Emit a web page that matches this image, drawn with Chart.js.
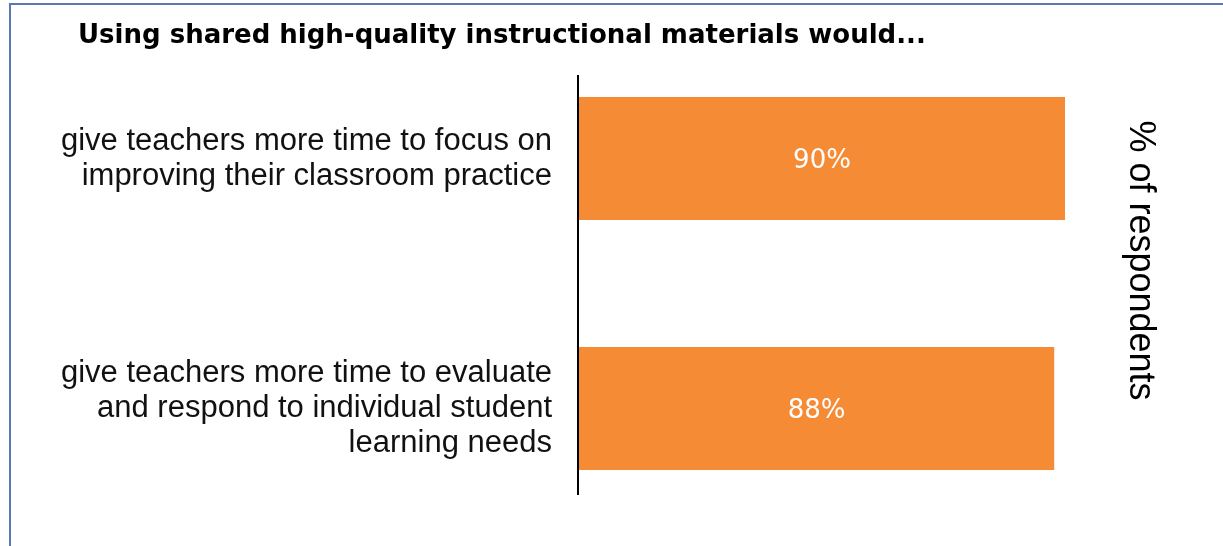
<!DOCTYPE html>
<html>
<head>
<meta charset="utf-8">
<script src="https://cdn.jsdelivr.net/npm/chart.js@4"></script>
<style>
  html, body { margin: 0; padding: 0; background: #fff; overflow: hidden; }
  #frame { position: absolute; left: 9px; top: 3px; width: 1300px; height: 600px;
           border-left: 2px solid #5a78b4; border-top: 2px solid #5a78b4; }
  #chart { position: absolute; left: 0; top: 0; }
</style>
</head>
<body>
<div id="frame"></div>
<canvas id="chart" width="1223" height="546"></canvas>
<script>
// data
const chartTitle = 'Using shared high-quality instructional materials would...';
const axisTitle = '% of respondents';
const categories = [
  ['give teachers more time to focus on', 'improving their classroom practice'],
  ['give teachers more time to evaluate', 'and respond to individual student', 'learning needs']
];
const percentValues = [90, 88];
const axisRange = [0, 100];

const barColor = '#f68b35';

// title, value labels, axis line and right-hand axis title
const decorations = {
  id: 'decorations',
  afterDatasetsDraw(chart) {
    const ctx = chart.ctx;
    const area = chart.chartArea;
    const yScale = chart.scales.y;
    ctx.save();

    // title
    ctx.fillStyle = '#000';
    ctx.font = 'bold 26px "DejaVu Sans"';
    ctx.textAlign = 'left';
    ctx.textBaseline = 'alphabetic';
    ctx.fillText(chartTitle, 78, 43);

    // value labels in the middle of each bar
    const meta = chart.getDatasetMeta(0);
    ctx.fillStyle = '#fff';
    ctx.font = '26px "DejaVu Sans"';
    ctx.textAlign = 'center';
    ctx.textBaseline = 'middle';
    meta.data.forEach((bar, i) => {
      ctx.fillText(percentValues[i] + '%', (bar.x + bar.base) / 2, bar.y + 3);
    });

    // vertical axis line, shorter than the plot area
    const catW = area.height / categories.length;
    const top = yScale.getPixelForTick(0) - catW * 0.334;
    const bottom = yScale.getPixelForTick(categories.length - 1) + catW * 0.346;
    ctx.strokeStyle = '#000';
    ctx.lineWidth = 2;
    ctx.beginPath();
    ctx.moveTo(area.left - 1, top);
    ctx.lineTo(area.left - 1, bottom);
    ctx.stroke();

    // rotated title on the right
    ctx.fillStyle = '#000';
    ctx.font = '36px "Liberation Sans"';
    ctx.translate(area.right + 21, (area.top + area.bottom) / 2 - 23);
    ctx.rotate(Math.PI / 2);
    ctx.textAlign = 'center';
    ctx.textBaseline = 'middle';
    ctx.fillText(axisTitle, 0, 0);
    ctx.restore();
  }
};

new Chart(document.getElementById('chart'), {
  type: 'bar',
  data: {
    labels: categories,
    datasets: [{
      data: percentValues,
      backgroundColor: barColor,
      borderWidth: 0,
      barPercentage: 0.492,
      categoryPercentage: 1.0
    }]
  },
  options: {
    indexAxis: 'y',
    responsive: false,
    animation: false,
    devicePixelRatio: 1,
    layout: { padding: { left: 0, top: 33.5, right: 104, bottom: 12.5 } },
    plugins: {
      legend: { display: false },
      title: { display: false },
      tooltip: { enabled: false }
    },
    scales: {
      x: {
        display: false,
        min: axisRange[0],
        max: axisRange[1]
      },
      y: {
        position: 'left',
        grid: { display: false, drawTicks: false },
        border: { display: false },
        ticks: {
          color: '#111',
          padding: 27,
          font: { family: '"Liberation Sans"', size: 31, lineHeight: 1.13 }
        },
        afterFit(scale) {
          scale.width = 579;
          scale.paddingTop = 0;
          scale.paddingBottom = 0;
        }
      }
    }
  },
  plugins: [decorations]
});
</script>
</body>
</html>
